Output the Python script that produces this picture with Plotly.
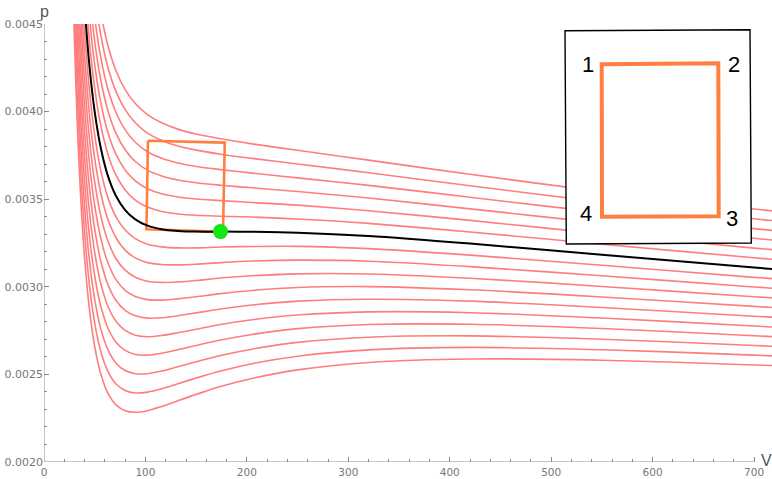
import plotly.graph_objects as go

# Sample volumes shared by every isotherm
volume = [28, 30, 33, 36, 40, 45, 50, 56, 63, 71, 80, 90, 102, 116, 132, 150,
          174, 205, 250, 320, 420, 550, 700, 720]

# Pressure along each isotherm, labelled by T/Tc
iso_090 = [0.004839, 0.004407, 0.003904, 0.003527, 0.003166, 0.002861, 0.002659, 0.002502, 0.002393, 0.002326, 0.002293, 0.002284, 0.002293, 0.002317, 0.002350, 0.002386, 0.002431, 0.002477, 0.002526, 0.002568, 0.002588, 0.002581, 0.002554, 0.002550]
iso_091 = [0.005002, 0.004566, 0.004058, 0.003677, 0.003310, 0.003000, 0.002793, 0.002631, 0.002517, 0.002445, 0.002408, 0.002394, 0.002399, 0.002418, 0.002447, 0.002479, 0.002519, 0.002561, 0.002604, 0.002640, 0.002654, 0.002641, 0.002610, 0.002605]
iso_092 = [0.005164, 0.004725, 0.004212, 0.003826, 0.003455, 0.003139, 0.002927, 0.002760, 0.002641, 0.002564, 0.002522, 0.002504, 0.002504, 0.002519, 0.002544, 0.002572, 0.002608, 0.002644, 0.002683, 0.002712, 0.002720, 0.002701, 0.002665, 0.002660]
iso_093 = [0.005327, 0.004883, 0.004366, 0.003976, 0.003599, 0.003277, 0.003061, 0.002889, 0.002765, 0.002684, 0.002637, 0.002614, 0.002610, 0.002621, 0.002641, 0.002665, 0.002696, 0.002728, 0.002761, 0.002785, 0.002786, 0.002762, 0.002721, 0.002715]
iso_094 = [0.005489, 0.005042, 0.004520, 0.004125, 0.003743, 0.003416, 0.003195, 0.003018, 0.002889, 0.002803, 0.002751, 0.002724, 0.002715, 0.002722, 0.002738, 0.002758, 0.002785, 0.002812, 0.002839, 0.002857, 0.002852, 0.002822, 0.002776, 0.002770]
iso_095 = [0.005652, 0.005201, 0.004674, 0.004275, 0.003888, 0.003555, 0.003329, 0.003147, 0.003013, 0.002922, 0.002866, 0.002835, 0.002821, 0.002823, 0.002835, 0.002851, 0.002873, 0.002896, 0.002918, 0.002929, 0.002918, 0.002882, 0.002832, 0.002826]
iso_096 = [0.005814, 0.005360, 0.004827, 0.004424, 0.004032, 0.003694, 0.003463, 0.003276, 0.003137, 0.003041, 0.002980, 0.002945, 0.002927, 0.002924, 0.002931, 0.002943, 0.002961, 0.002979, 0.002996, 0.003001, 0.002983, 0.002942, 0.002888, 0.002881]
iso_097 = [0.005977, 0.005519, 0.004981, 0.004574, 0.004176, 0.003833, 0.003597, 0.003405, 0.003261, 0.003160, 0.003095, 0.003055, 0.003032, 0.003025, 0.003028, 0.003036, 0.003050, 0.003063, 0.003074, 0.003073, 0.003049, 0.003002, 0.002943, 0.002936]
iso_098 = [0.006139, 0.005677, 0.005135, 0.004723, 0.004320, 0.003971, 0.003731, 0.003534, 0.003385, 0.003280, 0.003209, 0.003165, 0.003138, 0.003127, 0.003125, 0.003129, 0.003138, 0.003147, 0.003152, 0.003146, 0.003115, 0.003063, 0.002999, 0.002991]
iso_099 = [0.006302, 0.005836, 0.005289, 0.004873, 0.004465, 0.004110, 0.003865, 0.003663, 0.003509, 0.003399, 0.003324, 0.003275, 0.003243, 0.003228, 0.003222, 0.003222, 0.003227, 0.003230, 0.003231, 0.003218, 0.003181, 0.003123, 0.003054, 0.003046]
iso_100 = [0.006464, 0.005995, 0.005443, 0.005022, 0.004609, 0.004249, 0.003999, 0.003792, 0.003633, 0.003518, 0.003438, 0.003385, 0.003349, 0.003329, 0.003319, 0.003315, 0.003315, 0.003314, 0.003309, 0.003290, 0.003247, 0.003183, 0.003110, 0.003101]
iso_101 = [0.006627, 0.006154, 0.005597, 0.005172, 0.004753, 0.004388, 0.004133, 0.003921, 0.003757, 0.003637, 0.003553, 0.003495, 0.003455, 0.003430, 0.003416, 0.003408, 0.003403, 0.003398, 0.003387, 0.003362, 0.003313, 0.003243, 0.003166, 0.003156]
iso_102 = [0.006789, 0.006313, 0.005751, 0.005321, 0.004898, 0.004527, 0.004267, 0.004050, 0.003881, 0.003756, 0.003667, 0.003605, 0.003560, 0.003531, 0.003513, 0.003501, 0.003492, 0.003481, 0.003466, 0.003434, 0.003379, 0.003303, 0.003221, 0.003211]
iso_103 = [0.006952, 0.006471, 0.005905, 0.005471, 0.005042, 0.004665, 0.004401, 0.004179, 0.004005, 0.003876, 0.003782, 0.003715, 0.003666, 0.003633, 0.003610, 0.003594, 0.003580, 0.003565, 0.003544, 0.003507, 0.003445, 0.003364, 0.003277, 0.003266]
iso_104 = [0.007114, 0.006630, 0.006059, 0.005620, 0.005186, 0.004804, 0.004535, 0.004308, 0.004129, 0.003995, 0.003896, 0.003825, 0.003771, 0.003734, 0.003707, 0.003687, 0.003669, 0.003649, 0.003622, 0.003579, 0.003511, 0.003424, 0.003332, 0.003321]
iso_105 = [0.007277, 0.006789, 0.006213, 0.005770, 0.005331, 0.004943, 0.004669, 0.004437, 0.004253, 0.004114, 0.004011, 0.003936, 0.003877, 0.003835, 0.003804, 0.003780, 0.003757, 0.003733, 0.003701, 0.003651, 0.003577, 0.003484, 0.003388, 0.003377]
iso_106 = [0.007439, 0.006948, 0.006366, 0.005919, 0.005475, 0.005082, 0.004803, 0.004566, 0.004377, 0.004233, 0.004125, 0.004046, 0.003983, 0.003936, 0.003900, 0.003872, 0.003845, 0.003816, 0.003779, 0.003723, 0.003642, 0.003544, 0.003444, 0.003432]

red_isotherms = [iso_090, iso_091, iso_092, iso_093, iso_094, iso_095, iso_096,
                 iso_097, iso_098, iso_099, iso_101, iso_102, iso_103, iso_104,
                 iso_105, iso_106]
critical_isotherm = iso_100

# Critical point
crit_V = [174]
crit_p = [0.003315]

# Engine cycle corners 1 -> 2 -> 3 -> 4 -> 1
cycle_V = [102.5, 178.2, 176.5, 101.0, 102.5]
cycle_p = [0.003834, 0.003823, 0.003314, 0.003328, 0.003834]

x_ticks = [0, 100, 200, 300, 400, 500, 600, 700]
y_ticks = [0.0020, 0.0025, 0.0030, 0.0035, 0.0040, 0.0045]
corner_labels = ["1", "2", "3", "4"]

RED = "#ff7d7d"
ORANGE = "#ff7f3f"
AXIS = "#8a8a8a"
TICKTXT = "#777777"

fig = go.Figure()
for p in red_isotherms:
    fig.add_trace(go.Scatter(x=volume, y=p, mode="lines",
                             line=dict(color=RED, width=1.6, shape="spline", smoothing=0.9),
                             hoverinfo="skip", showlegend=False))
fig.add_trace(go.Scatter(x=cycle_V, y=cycle_p, mode="lines",
                         line=dict(color=ORANGE, width=2.6),
                         hoverinfo="skip", showlegend=False))
fig.add_trace(go.Scatter(x=volume, y=critical_isotherm, mode="lines",
                         line=dict(color="black", width=2, shape="spline", smoothing=0.9),
                         hoverinfo="skip", showlegend=False))
fig.add_trace(go.Scatter(x=crit_V, y=crit_p, mode="markers",
                         marker=dict(color="#14e614", size=15),
                         hoverinfo="skip", showlegend=False))

# Plot-area geometry in pixels, used to place the inset sketch
L, T, W, H = 44, 24, 728, 438


def px(xp):
    return (xp - L) / W


def py(yp):
    return (T + H - yp) / H


def quad(pts):
    s = "M {} {}".format(px(pts[0][0]), py(pts[0][1]))
    for a, b in pts[1:]:
        s += " L {} {}".format(px(a), py(b))
    return s + " Z"


shapes = [
    dict(type="line", xref="x", yref="y", x0=0, x1=700, y0=0.002, y1=0.002,
         line=dict(color=AXIS, width=1), layer="above"),
    dict(type="line", xref="x", yref="y", x0=0, x1=0, y0=0.002, y1=0.0045,
         line=dict(color=AXIS, width=1), layer="above"),
    dict(type="path", xref="paper", yref="paper",
         path=quad([(565.0, 30.7), (750.0, 29.7), (751.3, 243.0), (566.3, 244.0)]),
         fillcolor="white", line=dict(color="black", width=1.4), layer="above"),
    dict(type="path", xref="paper", yref="paper",
         path=quad([(601.7, 64.3), (718.3, 63.3), (718.7, 216.3), (602.0, 216.7)]),
         line=dict(color=ORANGE, width=4), layer="above"),
]

label_pos = [(587.5, 65.0), (733.5, 64.5), (731.5, 218.5), (585.5, 213.5)]
annotations = []
for txt, (xa, ya) in zip(corner_labels, label_pos):
    annotations.append(dict(text=txt, xref="paper", yref="paper", x=px(xa), y=py(ya),
                            xanchor="center", yanchor="middle", showarrow=False,
                            font=dict(family="Liberation Sans, Arial", size=22, color="black")))
annotations.append(dict(text="p", xref="paper", yref="paper", x=px(44), y=py(0.5),
                        xanchor="center", yanchor="top", showarrow=False,
                        font=dict(family="Liberation Sans, Arial", size=16, color="#555555")))
annotations.append(dict(text="V", xref="paper", yref="paper", x=px(766.8), y=py(460),
                        xanchor="center", yanchor="middle", showarrow=False,
                        font=dict(family="Liberation Sans, Arial", size=16, color="#555555")))

fig.update_layout(
    width=772, height=479,
    margin=dict(l=L, r=0, t=T, b=479 - T - H, pad=0),
    paper_bgcolor="white", plot_bgcolor="white",
    shapes=shapes, annotations=annotations,
    xaxis=dict(range=[0, 717.7], showgrid=False, zeroline=False, showline=False,
               tickvals=x_ticks, ticks="inside", ticklen=5, tickwidth=1, tickcolor=AXIS,
               tickfont=dict(family="DejaVu Sans, Liberation Sans", size=10.5, color=TICKTXT),
               ticklabelstandoff=2,
               minor=dict(ticks="inside", ticklen=3, tickwidth=1, tickcolor=AXIS,
                          dtick=20, tick0=0, showgrid=False)),
    yaxis=dict(range=[0.002, 0.0045], showgrid=False, zeroline=False, showline=False,
               tickvals=y_ticks, tickformat=".4f", ticks="inside", ticklen=5, tickwidth=1,
               tickcolor=AXIS,
               tickfont=dict(family="DejaVu Sans, Liberation Sans", size=11, color=TICKTXT),
               minor=dict(ticks="inside", ticklen=3, tickwidth=1, tickcolor=AXIS,
                          dtick=0.0001, tick0=0.002, showgrid=False)),
)

fig.write_html("out.html")
